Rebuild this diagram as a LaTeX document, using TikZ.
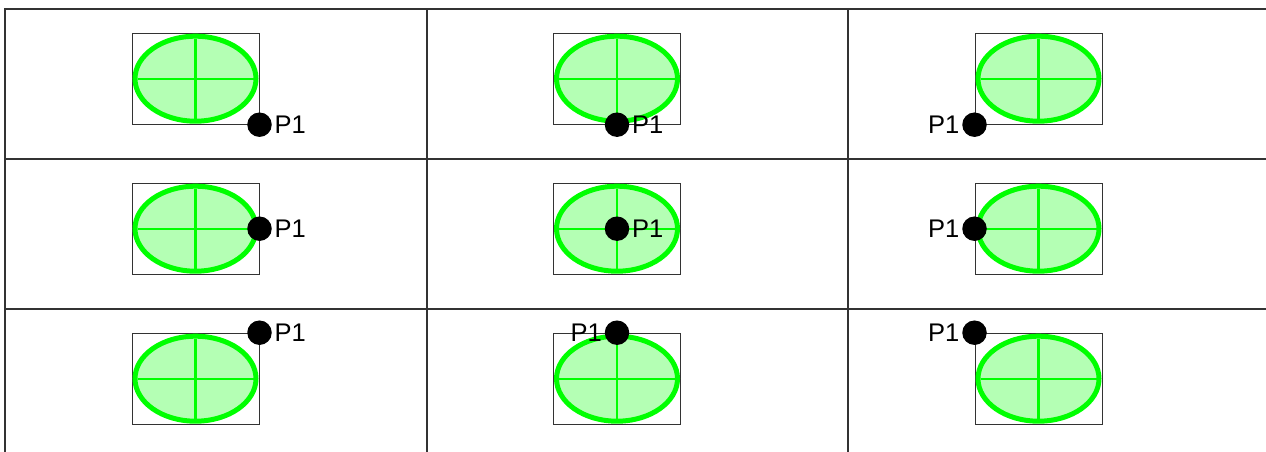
\documentclass[tikz,border=0pt]{standalone}
\usepackage{fontspec}
\setmainfont{Liberation Sans}
\usetikzlibrary{positioning}
\definecolor{verde}{RGB}{0,255,0}
\definecolor{verdechiaro}{RGB}{180,255,180}
\begin{document}
\begin{tikzpicture}[
			x=1pt, y=-1pt,
			griglia/.style={line width=2pt, black!80},
			cornice/.style={draw=black!80, line width=1pt,
				minimum width=127pt, minimum height=91pt,
				inner sep=0pt},
			ovale/.style={draw=verde, fill=verdechiaro,
				line width=5pt},
			croce/.style={draw=verde, line width=2.2pt},
			punto/.style={circle, fill=black,
				inner sep=0pt, minimum size=24.5pt},
			etichetta/.style={font=\fontsize{25.5}{30}\selectfont,
				inner sep=0pt},
			]
			\useasboundingbox (0,0) rectangle (1266,452);
			
			% griglia
			\draw[griglia] (1266,9) -- (5,9) -- (5,452);
			\draw[griglia] (5,159) -- (1266,159);
			\draw[griglia] (5,309) -- (1266,309);
			\draw[griglia] (426.5,9) -- (426.5,452);
			\draw[griglia] (848,9) -- (848,452);
			
			% celle: riga/colonna/ancora/lato etichetta
			\foreach \r/\c/\anc/\lato in {1/1/south east/right,
				1/2/south/right, 1/3/south west/left,
				2/1/east/right, 2/2/center/right, 2/3/west/left,
				3/1/north east/right, 3/2/north/left,
				3/3/north west/left}{
				\node[cornice] (box\r\c) at ({(\c-1)*421.5+195.5}, {(\r-1)*150+78.7}) {};
				\draw[ovale] (box\r\c.center) ellipse [x radius=60.5, y radius=42.5];
				\draw[croce] ([xshift=-58pt]box\r\c.center) -- ([xshift=58pt]box\r\c.center);
				\draw[croce] ([yshift=40pt]box\r\c.center) -- ([yshift=-40pt]box\r\c.center);
				% punto P1
				\node[punto] (p\r\c) at (box\r\c.\anc) {};
				\node[etichetta, \lato=2.5pt of p\r\c] (lab\r\c) {P1};
			}
		\end{tikzpicture}
\end{document}
